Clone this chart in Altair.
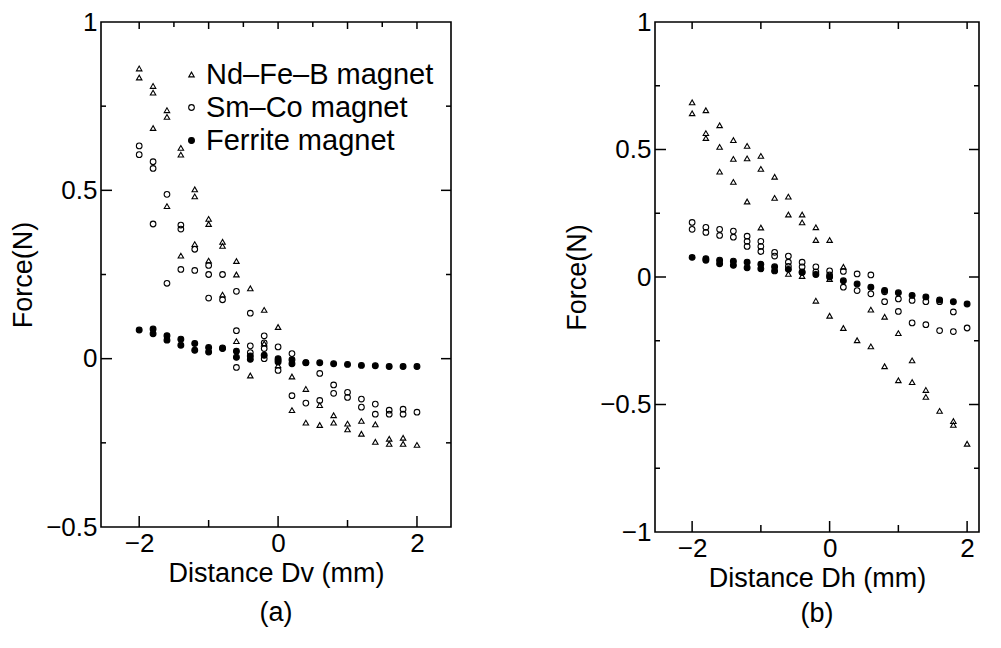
import altair as alt
import pandas as pd

FONT = "Liberation Sans"
SERIES = ["Nd–Fe–B magnet", "Sm–Co magnet", "Ferrite magnet"]

# ---------------- panel (a): vertical displacement Dv ----------------
a_nd_x = [-2, -2, -1.8, -1.8, -1.8, -1.6, -1.6, -1.6, -1.4, -1.4, -1.4,
          -1.2, -1.2, -1.2, -1.0, -1.0, -1.0, -0.8, -0.8, -0.8, -0.6, -0.6, -0.6,
          -0.4, -0.4, -0.2, -0.2, 0, 0, 0.2, 0.2, 0.4, 0.4, 0.6, 0.6, 0.8, 0.8,
          1.0, 1.0, 1.2, 1.2, 1.4, 1.4, 1.6, 1.6, 1.8, 1.8, 2.0]
a_nd_y = [0.862, 0.835, 0.81, 0.79, 0.685, 0.738, 0.718, 0.453, 0.626, 0.606, 0.306,
          0.503, 0.482, 0.34, 0.415, 0.40, 0.291, 0.347, 0.335, 0.19, 0.29, 0.25, 0.052,
          0.209, -0.05, 0.145, 0.045, 0.094, -0.02, -0.053, -0.153, -0.09, -0.19,
          -0.138, -0.197, -0.168, -0.19, -0.193, -0.21, -0.185, -0.223, -0.195, -0.247,
          -0.238, -0.253, -0.235, -0.253, -0.256]

a_sm_x = [-2, -2, -1.8, -1.8, -1.8, -1.6, -1.6, -1.4, -1.4, -1.4, -1.2, -1.2,
          -1.0, -1.0, -1.0, -0.8, -0.8, -0.8, -0.6, -0.6, -0.6, -0.4, -0.4, -0.4,
          -0.2, -0.2, -0.2, -0.2, 0, 0, 0, 0.2, 0.2, 0.4, 0.4, 0.6, 0.6, 0.8, 0.8,
          1.0, 1.0, 1.2, 1.2, 1.4, 1.4, 1.6, 1.6, 1.8, 1.8, 2.0]
a_sm_y = [0.632, 0.606, 0.585, 0.565, 0.40, 0.488, 0.224, 0.397, 0.385, 0.265, 0.325, 0.262,
          0.277, 0.25, 0.18, 0.25, 0.175, 0.032, 0.2, 0.083, -0.026, 0.135, 0.038, 0.018,
          0.068, 0.047, 0.03, 0.0, 0.035, -0.005, -0.035, 0.015, -0.11, -0.012, -0.132,
          -0.044, -0.124, -0.078, -0.103, -0.1, -0.115, -0.12, -0.144, -0.135, -0.165,
          -0.153, -0.165, -0.15, -0.165, -0.159]

a_fe_x = [-2, -1.8, -1.8, -1.6, -1.6, -1.4, -1.4, -1.2, -1.2, -1.0, -1.0, -0.8,
          -0.6, -0.6, -0.4, -0.4, -0.2, 0, 0, 0.2, 0.2, 0.4, 0.6, 0.8, 1.0, 1.2,
          1.4, 1.6, 1.8, 2.0]
a_fe_y = [0.085, 0.088, 0.074, 0.068, 0.055, 0.058, 0.04, 0.045, 0.025, 0.033, 0.02, 0.03,
          0.022, 0.004, 0.008, -0.002, 0.01, 0.0, -0.01, -0.003, -0.015, -0.012, -0.012,
          -0.015, -0.017, -0.02, -0.021, -0.023, -0.023, -0.023]

# ---------------- panel (b): horizontal displacement Dh ----------------
b_nd_x = [-2, -2, -1.8, -1.8, -1.8, -1.6, -1.6, -1.6, -1.4, -1.4, -1.4,
          -1.2, -1.2, -1.2, -1.0, -1.0, -1.0, -0.8, -0.8, -0.6, -0.6, -0.6,
          -0.4, -0.4, -0.4, -0.2, -0.2, -0.2, 0, 0, 0, 0.2, 0.2, 0.4, 0.6, 0.6,
          0.8, 0.8, 1.0, 1.0, 1.2, 1.2, 1.4, 1.4, 1.6, 1.8, 1.8, 2.0]
b_nd_y = [0.685, 0.642, 0.654, 0.564, 0.545, 0.595, 0.51, 0.413, 0.537, 0.463, 0.373,
          0.514, 0.465, 0.296, 0.475, 0.424, 0.194, 0.393, 0.31, 0.315, 0.245, 0.012,
          0.245, 0.214, 0.004, 0.195, 0.145, -0.093, 0.145, -0.008, -0.152, 0.04, -0.2,
          -0.248, -0.128, -0.272, -0.156, -0.35, -0.22, -0.405, -0.327, -0.412,
          -0.443, -0.47, -0.525, -0.565, -0.58, -0.654]

b_sm_x = [-2, -2, -1.8, -1.8, -1.6, -1.6, -1.4, -1.4, -1.2, -1.2, -1.2,
          -1.0, -1.0, -1.0, -0.8, -0.8, -0.6, -0.6, -0.6, -0.4, -0.4, -0.4,
          -0.2, -0.2, 0, 0, 0.2, 0.2, 0.4, 0.4, 0.6, 0.6, 0.8, 0.8, 1.0, 1.0,
          1.2, 1.2, 1.4, 1.4, 1.6, 1.6, 1.8, 1.8, 2.0]
b_sm_y = [0.214, 0.187, 0.195, 0.175, 0.187, 0.163, 0.18, 0.156, 0.16, 0.14, 0.12,
          0.14, 0.12, 0.1, 0.097, 0.082, 0.082, 0.058, 0.042, 0.058, 0.04, 0.02,
          0.04, 0.02, 0.024, 0.008, 0.022, -0.04, 0.012, -0.053, 0.008, -0.066,
          -0.058, -0.097, -0.086, -0.135, -0.092, -0.18, -0.097, -0.187, -0.097, -0.21,
          -0.137, -0.214, -0.2]

b_fe_x = [-2, -1.8, -1.8, -1.6, -1.6, -1.4, -1.4, -1.2, -1.2, -1.0, -1.0, -0.8, -0.8,
          -0.6, -0.4, -0.2, 0, 0.2, 0.4, 0.6, 0.8, 1.0, 1.2, 1.4, 1.6, 1.8, 2.0]
b_fe_y = [0.077, 0.072, 0.066, 0.066, 0.052, 0.062, 0.046, 0.058, 0.036, 0.05, 0.032,
          0.04, 0.024, 0.03, 0.018, 0.01, 0.0, -0.015, -0.027, -0.04, -0.053, -0.062,
          -0.072, -0.078, -0.09, -0.097, -0.106]

# axis tick values
x_label_vals = [-2, 0, 2]
x_major = [-2, 0, 2]
x_minor = [-1, 1]
a_top_major = [-2, -1, 0, 1, 2]
a_top_minor = [-1.5, -0.5, 0.5, 1.5]
b_top_major = [-2, -1, 0, 1, 2]
b_top_minor = []
a_y_labels = [-0.5, 0, 0.5, 1]
a_y_major = [0, 0.5]
a_y_minor = [-0.25, 0.25, 0.75]
b_y_labels = [-1, -0.5, 0, 0.5, 1]
b_y_major = [-0.5, 0, 0.5]
b_y_minor = [-0.75, -0.25, 0.25, 0.75]


def table(nx, ny, sx, sy, fx, fy):
    return pd.DataFrame({
        "d": nx + sx + fx,
        "f": ny + sy + fy,
        "m": [SERIES[0]] * len(nx) + [SERIES[1]] * len(sx) + [SERIES[2]] * len(fx),
    })


def hticks(vals, ys, yax, xc, length):
    # short horizontal tick drawn as a "stroke" symbol centred at pixel xc
    return alt.Chart(pd.DataFrame({"v": vals})).mark_point(
        shape="stroke", size=length * length, filled=False, opacity=1,
        stroke="black", strokeWidth=1.5
    ).encode(y=alt.Y("v:Q", scale=ys, axis=yax), x=alt.value(xc))


def vticks(vals, xs, xax, yc, length):
    return alt.Chart(pd.DataFrame({"v": vals})).mark_point(
        shape="stroke", size=length * length, angle=90, filled=False, opacity=1,
        stroke="black", strokeWidth=1.5
    ).encode(x=alt.X("v:Q", scale=xs, axis=xax), y=alt.value(yc))


def panel(df, xdom, ydom, w, h, xtitle, caption, cap_off, ylab, ymaj, ymin, tmaj, tmin, show_legend):
    xs = alt.Scale(domain=xdom, nice=False, zero=False)
    ys = alt.Scale(domain=ydom, nice=False, zero=False)
    xax = alt.Axis(orient="bottom", values=x_label_vals, format="~g", ticks=False,
                   grid=False, domain=False,
                   labelFontSize=26, labelPadding=3, title=xtitle, titleFontSize=27,
                   titleFontWeight="normal", titlePadding=4)
    yax = alt.Axis(orient="left", values=ylab, format="~g", ticks=False,
                   grid=False, domain=False,
                   labelFontSize=26, labelPadding=4, title="Force(N)", titleFontSize=27,
                   titleFontWeight="normal", titlePadding=8)
    if show_legend:
        leg = alt.Legend(orient="none", legendX=76, legendY=38, title=None,
                         labelFontSize=29, labelFont=FONT, labelColor="black",
                         labelLimit=0, labelOffset=0, rowPadding=3, padding=0,
                         symbolStrokeWidth=1.1)
    else:
        leg = None
    pts = alt.Chart(df).mark_point(opacity=1, strokeWidth=1.1).encode(
        x=alt.X("d:Q", scale=xs, axis=xax),
        y=alt.Y("f:Q", scale=ys, axis=yax),
        shape=alt.Shape("m:N", scale=alt.Scale(domain=SERIES, range=["triangle-up", "circle", "circle"]), legend=leg),
        fill=alt.Fill("m:N", scale=alt.Scale(domain=SERIES, range=["transparent", "transparent", "black"]), legend=leg),
        stroke=alt.Stroke("m:N", scale=alt.Scale(domain=SERIES, range=["black", "black", "black"]), legend=leg),
        size=alt.Size("m:N", scale=alt.Scale(domain=SERIES, range=[30, 34, 4]), legend=leg),
    )
    layers = [
        pts,
        hticks(ymaj, ys, yax, 5.5, 11), hticks(ymin, ys, yax, 2.5, 5),
        hticks(ymaj, ys, yax, w - 5, 10), hticks(ymin, ys, yax, w - 2.5, 5),
        vticks(x_major, xs, xax, h - 5.5, 11), vticks(x_minor, xs, xax, h - 3.5, 7),
        vticks(tmaj, xs, xax, 3.5, 7),
    ]
    if tmin:
        layers.append(vticks(tmin, xs, xax, 2.5, 5))
    return alt.layer(*layers).properties(
        width=w, height=h,
        title=alt.TitleParams(caption, orient="bottom", anchor="middle", frame="group",
                              fontSize=27, fontWeight="normal", font=FONT,
                              color="black", offset=cap_off),
    )


pa = panel(table(a_nd_x, a_nd_y, a_sm_x, a_sm_y, a_fe_x, a_fe_y),
           [-2.55, 2.49], [-0.5, 1], 350, 505, "Distance Dv (mm)", "(a)", 14,
           a_y_labels, a_y_major, a_y_minor, a_top_major, a_top_minor, True)
pb = panel(table(b_nd_x, b_nd_y, b_sm_x, b_sm_y, b_fe_x, b_fe_y),
           [-2.54, 2.173], [-1, 1], 324, 510, "Distance Dh (mm)", "(b)", 10,
           b_y_labels, b_y_major, b_y_minor, b_top_major, b_top_minor, False)

chart = alt.hconcat(pa, pb, spacing=107).resolve_scale(
    shape="independent", fill="independent", size="independent", stroke="independent"
).properties(
    padding=0
).configure_view(
    stroke="black", strokeWidth=1.6
).configure_axis(
    labelFont=FONT, titleFont=FONT, labelColor="black", titleColor="black"
)

chart.save("out.html", embed_options={"renderer": "svg", "actions": False})
